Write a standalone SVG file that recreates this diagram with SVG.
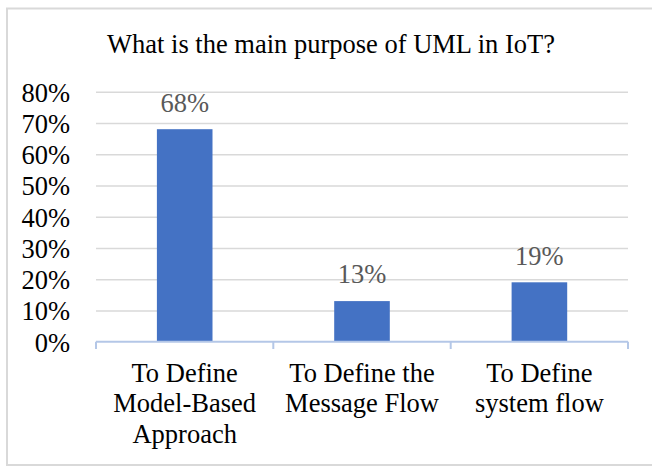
<svg xmlns="http://www.w3.org/2000/svg" width="652" height="466" viewBox="0 0 652 466">
  <style>
    text { font-family: 'Liberation Serif', Tinos, 'Times New Roman', 'DejaVu Serif', serif; font-size: 26.5px; }
    .txt { fill: #000000; }
    .ylab { text-anchor: end; }
    .mid { text-anchor: middle; }
    .val { fill: #595959; text-anchor: middle; }
    .grid { stroke: #d9d9d9; stroke-width: 1.5; }
    .axis { stroke: #b4c7e7; stroke-width: 2; fill: none; }
    .bar { fill: #4472c4; }
  </style>

  <!-- chart frame -->
  <rect x="0" y="0" width="652" height="466" fill="#ffffff"/>
  <rect x="7" y="8.5" width="660" height="456.5" fill="none" stroke="#d9d9d9" stroke-width="2"/>

  <!-- title -->
  <text class="txt mid" x="331" y="53">What is the main purpose of UML in IoT?</text>

  <!-- gridlines -->
  <g id="gridlines">
    <line class="grid" x1="96" y1="92.3" x2="628" y2="92.3"/>
    <line class="grid" x1="96" y1="123.5" x2="628" y2="123.5"/>
    <line class="grid" x1="96" y1="154.8" x2="628" y2="154.8"/>
    <line class="grid" x1="96" y1="186" x2="628" y2="186"/>
    <line class="grid" x1="96" y1="217.3" x2="628" y2="217.3"/>
    <line class="grid" x1="96" y1="248.5" x2="628" y2="248.5"/>
    <line class="grid" x1="96" y1="279.8" x2="628" y2="279.8"/>
    <line class="grid" x1="96" y1="311" x2="628" y2="311"/>
  </g>

  <!-- y-axis labels -->
  <g id="y-axis">
    <text class="txt ylab" x="70" y="101.7">80%</text>
    <text class="txt ylab" x="70" y="132.9">70%</text>
    <text class="txt ylab" x="70" y="164.2">60%</text>
    <text class="txt ylab" x="70" y="195.4">50%</text>
    <text class="txt ylab" x="70" y="226.7">40%</text>
    <text class="txt ylab" x="70" y="257.9">30%</text>
    <text class="txt ylab" x="70" y="289.2">20%</text>
    <text class="txt ylab" x="70" y="320.4">10%</text>
    <text class="txt ylab" x="70" y="351.7">0%</text>
  </g>

  <!-- bars -->
  <g id="bar-model-based">
    <rect class="bar" x="156.9" y="129.2" width="55.6" height="212.5"/>
    <text class="val" x="184.7" y="112.3">68%</text>
  </g>
  <g id="bar-message-flow">
    <rect class="bar" x="334.2" y="301.1" width="55.6" height="40.6"/>
    <text class="val" x="362" y="283.3">13%</text>
  </g>
  <g id="bar-system-flow">
    <rect class="bar" x="511.6" y="282.3" width="55.6" height="59.4"/>
    <text class="val" x="539.4" y="264.8">19%</text>
  </g>

  <!-- category axis -->
  <g id="x-axis">
    <line class="axis" x1="96" y1="341.7" x2="628" y2="341.7"/>
    <line class="axis" x1="96" y1="341.7" x2="96" y2="349"/>
    <line class="axis" x1="273.3" y1="341.7" x2="273.3" y2="349"/>
    <line class="axis" x1="450.7" y1="341.7" x2="450.7" y2="349"/>
    <line class="axis" x1="628" y1="341.7" x2="628" y2="349"/>
  </g>

  <!-- category labels -->
  <g id="categories">
    <text class="txt mid" x="184.7" y="381.7">To Define</text>
    <text class="txt mid" x="184.7" y="412.3">Model-Based</text>
    <text class="txt mid" x="184.7" y="442.7">Approach</text>
    <text class="txt mid" x="362" y="381.7">To Define the</text>
    <text class="txt mid" x="362" y="412.3">Message Flow</text>
    <text class="txt mid" x="539.4" y="381.7">To Define</text>
    <text class="txt mid" x="539.4" y="412.3">system flow</text>
  </g>
</svg>
